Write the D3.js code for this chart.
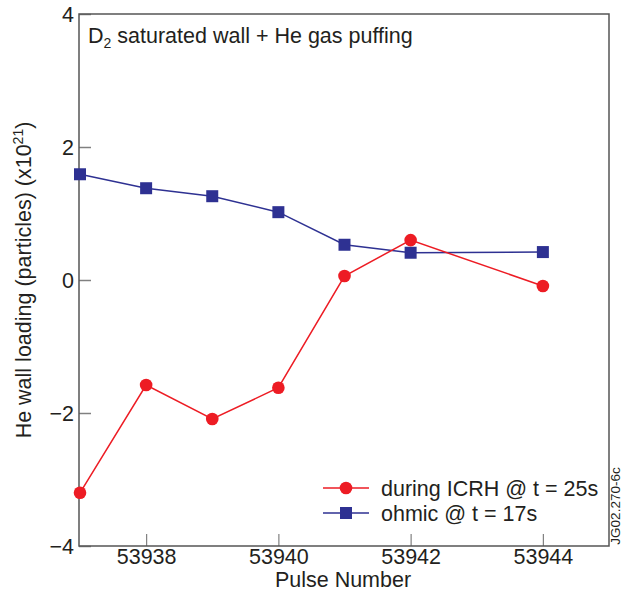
<!DOCTYPE html>
<html><head><meta charset="utf-8">
<script src="https://cdn.jsdelivr.net/npm/d3@7"></script>
<style>body{margin:0;background:#fff}svg{display:block}text{font-family:"Liberation Sans",Arial,sans-serif;fill:#231f20}</style>
</head><body>
<svg id="c" width="622" height="595"></svg>
<script>
const pulses = [53937, 53938, 53939, 53940, 53941, 53942, 53944];
const icrh = [-3.2, -1.58, -2.09, -1.62, 0.06, 0.60, -0.09];
const ohmic = [1.59, 1.38, 1.26, 1.02, 0.53, 0.41, 0.42];
const xTicks = [53938, 53940, 53942, 53944];
const yTicks = [-4, -2, 0, 2, 4];
const seriesNames = ["during ICRH @ t = 25s", "ohmic @ t = 17s"];

const svg = d3.select("#c");
const L = 79, R = 609, T = 14, B = 546;
const x = d3.scaleLinear().domain([53937, 53945]).range([L + 1, R]);
const y = d3.scaleLinear().domain([-4, 4]).range([B, T]);
const red = "#ed1c24", blue = "#2e3192";
const FS = "21.5px";

// ticks
const gy = svg.append("g").attr("transform", `translate(${L},0)`)
  .call(d3.axisLeft(y).tickValues(yTicks).tickSize(-12).tickPadding(5).tickFormat(d => d < 0 ? "\u2212" + Math.abs(d) : d));
gy.select(".domain").remove();
gy.selectAll(".tick line").attr("stroke", "#808080").attr("stroke-width", 1.5);
gy.selectAll(".tick text").style("font-size", FS).attr("fill", "#231f20").attr("dy", "0.36em");

const gx = svg.append("g").attr("transform", `translate(0,${B})`)
  .call(d3.axisBottom(x).tickValues(xTicks).tickSize(-12).tickPadding(3).tickFormat(d3.format("d")));
gx.select(".domain").remove();
gx.selectAll(".tick line").attr("stroke", "#808080").attr("stroke-width", 1.2);
gx.selectAll(".tick text").style("font-size", FS).attr("fill", "#231f20");

// frame
svg.append("rect").attr("x", L).attr("y", T).attr("width", R - L).attr("height", B - T)
  .attr("fill", "none").attr("stroke", "#555").attr("stroke-width", 1.5);

// series
const line = d3.line().x(d => x(d[0])).y(d => y(d[1]));
const icrhData = pulses.map((p, i) => [p, icrh[i]]);
const ohmicData = pulses.map((p, i) => [p, ohmic[i]]);

svg.append("path").attr("d", line(ohmicData)).attr("fill", "none").attr("stroke", blue).attr("stroke-width", 1.5);
svg.append("path").attr("d", line(icrhData)).attr("fill", "none").attr("stroke", red).attr("stroke-width", 1.5);
svg.selectAll(".sq").data(ohmicData).enter().append("rect")
  .attr("x", d => x(d[0]) - 6).attr("y", d => y(d[1]) - 6).attr("width", 12).attr("height", 12).attr("fill", blue);
svg.selectAll(".ci").data(icrhData).enter().append("circle")
  .attr("cx", d => x(d[0])).attr("cy", d => y(d[1])).attr("r", 6.3).attr("fill", red);

// title
const t = svg.append("text").attr("x", 88).attr("y", 43).style("font-size", FS);
t.append("tspan").text("D");
t.append("tspan").attr("dy", 5).style("font-size", "14px").text("2");
t.append("tspan").attr("dy", -5).text(" saturated wall + He gas puffing");

// legend
const lg = [{c: red, s: "circle", yy: 488}, {c: blue, s: "square", yy: 513}];
lg.forEach((d, i) => {
  svg.append("line").attr("x1", 323).attr("x2", 369).attr("y1", d.yy).attr("y2", d.yy).attr("stroke", d.c).attr("stroke-width", 1.5);
  if (d.s === "circle") svg.append("circle").attr("cx", 346).attr("cy", d.yy).attr("r", 6.3).attr("fill", d.c);
  else svg.append("rect").attr("x", 340).attr("y", d.yy - 6).attr("width", 12).attr("height", 12).attr("fill", d.c);
  svg.append("text").attr("x", 381).attr("y", d.yy + 7.5).style("font-size", FS).text(seriesNames[i]);
});

// axis labels
svg.append("text").attr("x", 343).attr("y", 587).attr("text-anchor", "middle").style("font-size", FS).text("Pulse Number");
const yl = svg.append("text").attr("transform", "translate(31,280) rotate(-90)").attr("text-anchor", "middle").style("font-size", FS);
yl.append("tspan").text("He wall loading (particles) (x10");
yl.append("tspan").attr("dy", -8).style("font-size", "14px").text("21");
yl.append("tspan").attr("dy", 8).text(")");

svg.append("text").attr("transform", "translate(620,506) rotate(-90)").attr("text-anchor", "middle").style("font-size", "13.5px").text("JG02.270-6c");
</script>
</body></html>
